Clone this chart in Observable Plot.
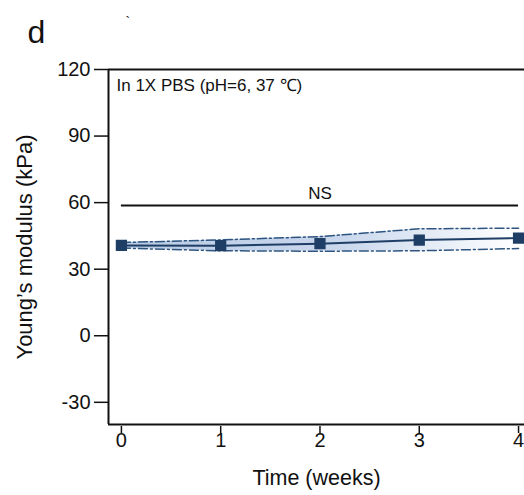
<!DOCTYPE html>
<html>
<head>
<meta charset="utf-8">
<script src="https://cdn.jsdelivr.net/npm/d3@7"></script>
<script src="https://cdn.jsdelivr.net/npm/@observablehq/plot@0.6"></script>
<style>
  body { margin: 0; background: #fff; }
</style>
</head>
<body>
<div id="chart"></div>
<script>
// Data
const weeks = [0, 1, 2, 3, 4];
const modulus = [40.7, 40.6, 41.5, 43.1, 44.0];
const upper = [42.0, 43.2, 44.7, 48.2, 48.5];
const lower = [39.5, 38.3, 38.1, 38.3, 39.3];
const yTicks = [-30, 0, 30, 60, 90, 120];
const xTicks = [0, 1, 2, 3, 4];
const sigLabel = "NS";
const sigLevel = 58.7;
const condition = "In 1X PBS (pH=6, 37 \u2103)";
const panelLetter = "d";

const data = weeks.map((w, i) => ({w, m: modulus[i], hi: upper[i], lo: lower[i]}));

const navy = "#1f3e66";
const edge = "#2e5580";

const defs = () => {
  const svgNS = "http://www.w3.org/2000/svg";
  const d = document.createElementNS(svgNS, "defs");
  d.innerHTML = `<linearGradient id="bandGrad" x1="0" x2="1" y1="0" y2="0">
    <stop offset="0%" stop-color="#b9cbe5"/>
    <stop offset="55%" stop-color="#c9d7ec"/>
    <stop offset="100%" stop-color="#ffffff"/>
  </linearGradient>`;
  return d;
};

const chart = Plot.plot({
  width: 524,
  height: 495,
  marginLeft: 108,
  marginRight: 0,
  marginTop: 69,
  marginBottom: 71,
  style: {fontFamily: "'Liberation Sans', Arial, sans-serif", color: "#111"},
  x: {domain: [-0.13, 4.06]},
  y: {domain: [-40, 120]},
  marks: [
    defs,
    Plot.areaY(data, {x: "w", y1: "lo", y2: "hi", fill: "url(#bandGrad)"}),
    Plot.lineY(data, {x: "w", y: "hi", stroke: edge, strokeWidth: 1.5, strokeDasharray: "9,3,2,3"}),
    Plot.lineY(data, {x: "w", y: "lo", stroke: edge, strokeWidth: 1.5, strokeDasharray: "9,3,2,3"}),
    Plot.lineY(data, {x: "w", y: "m", stroke: navy, strokeWidth: 2}),
    Plot.dot(data, {x: "w", y: "m", symbol: "square", r: 5.5, fill: navy, stroke: navy}),
    Plot.ruleY([sigLevel], {x1: 0, x2: 4, stroke: "#111", strokeWidth: 2}),
    Plot.text([sigLabel], {x: 2, y: sigLevel, text: d => d, dy: -12, fontSize: 17, fill: "#111"}),
    Plot.text([condition], {frameAnchor: "top-left", text: d => d, dx: 8, dy: 9, fontSize: 17, fill: "#111"}),
    Plot.text([panelLetter], {frameAnchor: "top-left", text: d => d, dx: -81, dy: -49, fontSize: 32, fill: "#111"}),
    Plot.text(["`"], {frameAnchor: "top-left", text: d => d, dx: 17, dy: -52, fontSize: 14, fill: "#111"}),
    Plot.ruleY([120], {stroke: "#111", strokeWidth: 2}),
    Plot.ruleY([-40], {stroke: "#111", strokeWidth: 2}),
    Plot.ruleX([-0.13], {stroke: "#111", strokeWidth: 2}),
    Plot.axisY({ticks: yTicks, tickFormat: () => "", tickSize: 14, strokeWidth: 1.5, label: null}),
    Plot.axisX({ticks: xTicks, tickFormat: () => "", tickSize: 7, dy: 2, strokeWidth: 1.5, label: null}),
    Plot.text(yTicks, {frameAnchor: "left", y: d => d, text: d => String(d), textAnchor: "end", dx: -18, fontSize: 20, fill: "#111"}),
    Plot.text(xTicks, {frameAnchor: "bottom", x: d => d, text: d => String(d), dy: 22, fontSize: 20, fill: "#111"}),
    Plot.text(["Young\u2019s modulus (kPa)"], {frameAnchor: "left", text: d => d, rotate: -90, textAnchor: "middle", dx: -84, fontSize: 22, fill: "#111"}),
    Plot.text(["Time (weeks)"], {frameAnchor: "bottom", text: d => d, dy: 60, fontSize: 21.5, fill: "#111"})
  ]
});
document.getElementById("chart").appendChild(chart);
</script>
</body>
</html>
